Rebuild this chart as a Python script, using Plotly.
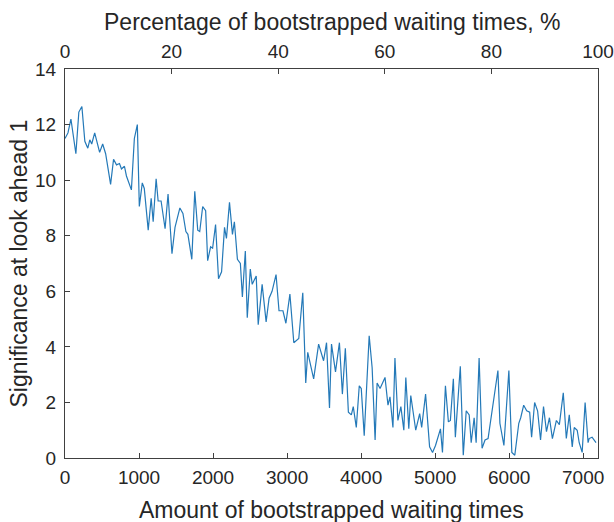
import plotly.graph_objects as go

# Number of bootstrapped waiting times at each sample
amount = [0, 40, 80, 147, 187, 228, 268, 308, 335, 361, 401, 442, 468, 509, 549,
          616, 656, 696, 736, 763, 803, 830, 897, 937, 977, 1004, 1044, 1071, 1124,
          1164, 1191, 1231, 1258, 1298, 1352, 1392, 1445, 1486, 1552, 1593, 1633,
          1660, 1713, 1753, 1793, 1820, 1860, 1900, 1927, 1967, 1994, 2034, 2074,
          2115, 2155, 2181, 2222, 2262, 2288, 2329, 2369, 2396, 2436, 2462, 2503,
          2529, 2583, 2610, 2663, 2717, 2757, 2797, 2851, 2891, 2944, 2984, 3038,
          3091, 3158, 3212, 3252, 3279, 3359, 3426, 3493, 3533, 3573, 3600, 3654,
          3707, 3747, 3787, 3828, 3868, 3894, 3935, 3975, 4002, 4042, 4109, 4149,
          4189, 4216, 4256, 4323, 4363, 4390, 4430, 4457, 4497, 4537, 4577, 4604,
          4644, 4671, 4738, 4791, 4818, 4871, 4925, 4965, 5005, 5072, 5099, 5139,
          5179, 5206, 5246, 5273, 5340, 5380, 5420, 5460, 5487, 5527, 5554, 5594,
          5634, 5674, 5715, 5795, 5848, 5875, 5929, 5996, 6036, 6076, 6130, 6156,
          6196, 6237, 6277, 6303, 6344, 6384, 6424, 6464, 6504, 6544, 6584, 6638,
          6678, 6731, 6772, 6812, 6852, 6879, 6919, 6946, 6986, 7026, 7066, 7080,
          7120, 7173]

# Significance at look ahead 1
significance = [11.5, 11.7, 12.2, 10.95, 12.45, 12.65, 11.4, 11.15, 11.45, 11.3, 11.7,
                11.2, 11.0, 11.3, 10.95, 9.85, 10.75, 10.55, 10.6, 10.4, 10.5, 10.15,
                9.65, 11.5, 12.0, 9.05, 9.9, 9.7, 8.2, 9.35, 8.5, 10.05, 9.25, 9.25,
                8.25, 9.5, 7.35, 8.3, 9.0, 8.8, 8.15, 8.05, 7.15, 9.6, 8.2, 8.15, 9.05,
                8.9, 7.1, 7.6, 7.55, 8.4, 6.45, 6.7, 8.3, 7.9, 9.2, 8.05, 8.5, 7.15,
                7.0, 5.8, 7.45, 5.05, 6.8, 6.25, 6.55, 4.8, 6.25, 4.9, 5.75, 6.0, 6.6,
                5.3, 5.3, 4.85, 5.9, 4.15, 4.3, 5.95, 2.7, 3.8, 2.85, 4.1, 3.5, 4.15,
                1.8, 4.1, 3.1, 4.15, 2.3, 3.95, 1.65, 1.55, 1.85, 1.1, 2.6, 2.5, 0.8,
                4.4, 3.25, 0.65, 2.7, 2.5, 2.9, 1.9, 2.2, 1.1, 3.6, 1.35, 1.85, 1.0,
                2.9, 1.05, 2.25, 1.0, 1.6, 1.1, 2.3, 0.4, 0.2, 0.45, 1.05, 0.2, 2.6,
                1.3, 1.35, 2.85, 0.75, 3.3, 0.1, 1.7, 1.55, 0.55, 1.45, 0.55, 3.6,
                0.35, 0.65, 0.7, 2.1, 3.15, 1.25, 0.45, 3.15, 0.2, 0.1, 1.25, 1.45,
                1.9, 1.7, 1.65, 0.75, 2.0, 1.7, 0.65, 1.85, 0.95, 1.45, 0.7, 1.35,
                1.2, 2.35, 0.7, 1.55, 0.4, 1.1, 1.0, 0.55, 0.2, 2.0, 0.55, 0.7, 0.75,
                0.55]

amount_max = 7200
bottom_ticks = [0, 1000, 2000, 3000, 4000, 5000, 6000, 7000]
top_ticks = [0, 20, 40, 60, 80, 100]
y_ticks = [0, 2, 4, 6, 8, 10, 12, 14]

bottom_title = "Amount of bootstrapped waiting times"
top_title = "Percentage of bootstrapped waiting times, %"
y_title = "Significance at look ahead 1"

font_family = "Liberation Sans, Arial, sans-serif"
ink = "#262626"
tick_size = 19
title_size = 23

fig = go.Figure()
fig.add_trace(go.Scatter(x=amount, y=significance, mode="lines",
                         line=dict(color="#2479b8", width=1.2),
                         showlegend=False, hoverinfo="skip"))
# invisible trace so the percentage axis is drawn
fig.add_trace(go.Scatter(x=[0, 100], y=[0, 0], xaxis="x2", mode="lines",
                         line=dict(width=0), showlegend=False, hoverinfo="skip"))

axis_common = dict(showline=True, linecolor="#404040", linewidth=1.2,
                   ticks="inside", ticklen=5, tickcolor="#404040",
                   showgrid=False, zeroline=False, automargin=False,
                   ticklabeloverflow="allow",
                   tickfont=dict(family=font_family, size=tick_size, color=ink))

title_font = dict(family=font_family, size=title_size, color=ink)

fig.update_layout(
    width=614, height=522,
    margin=dict(l=65, r=16, t=69, b=64),
    paper_bgcolor="white", plot_bgcolor="white",
    font=dict(family=font_family, color=ink),
    xaxis=dict(range=[0, amount_max], tickvals=bottom_ticks, mirror=True,
               ticklabelstandoff=2, **axis_common),
    xaxis2=dict(range=[0, 100], tickvals=top_ticks, overlaying="x", side="top",
                ticklabelstandoff=2, **axis_common),
    yaxis=dict(range=[0, 14], tickvals=y_ticks, mirror=True,
               ticklabelstandoff=4, **axis_common),
    annotations=[
        dict(text=bottom_title, xref="paper", yref="paper", x=0.5, y=0,
             xanchor="center", yanchor="middle", yshift=-52,
             showarrow=False, font=title_font),
        dict(text=top_title, xref="paper", yref="paper", x=0.5, y=1,
             xanchor="center", yanchor="middle", yshift=47,
             showarrow=False, font=title_font),
        dict(text=y_title, xref="paper", yref="paper", x=0, y=0.5,
             xanchor="center", yanchor="middle", xshift=-47, textangle=-90,
             showarrow=False, font=title_font),
    ],
)

fig.write_html("out.html")
